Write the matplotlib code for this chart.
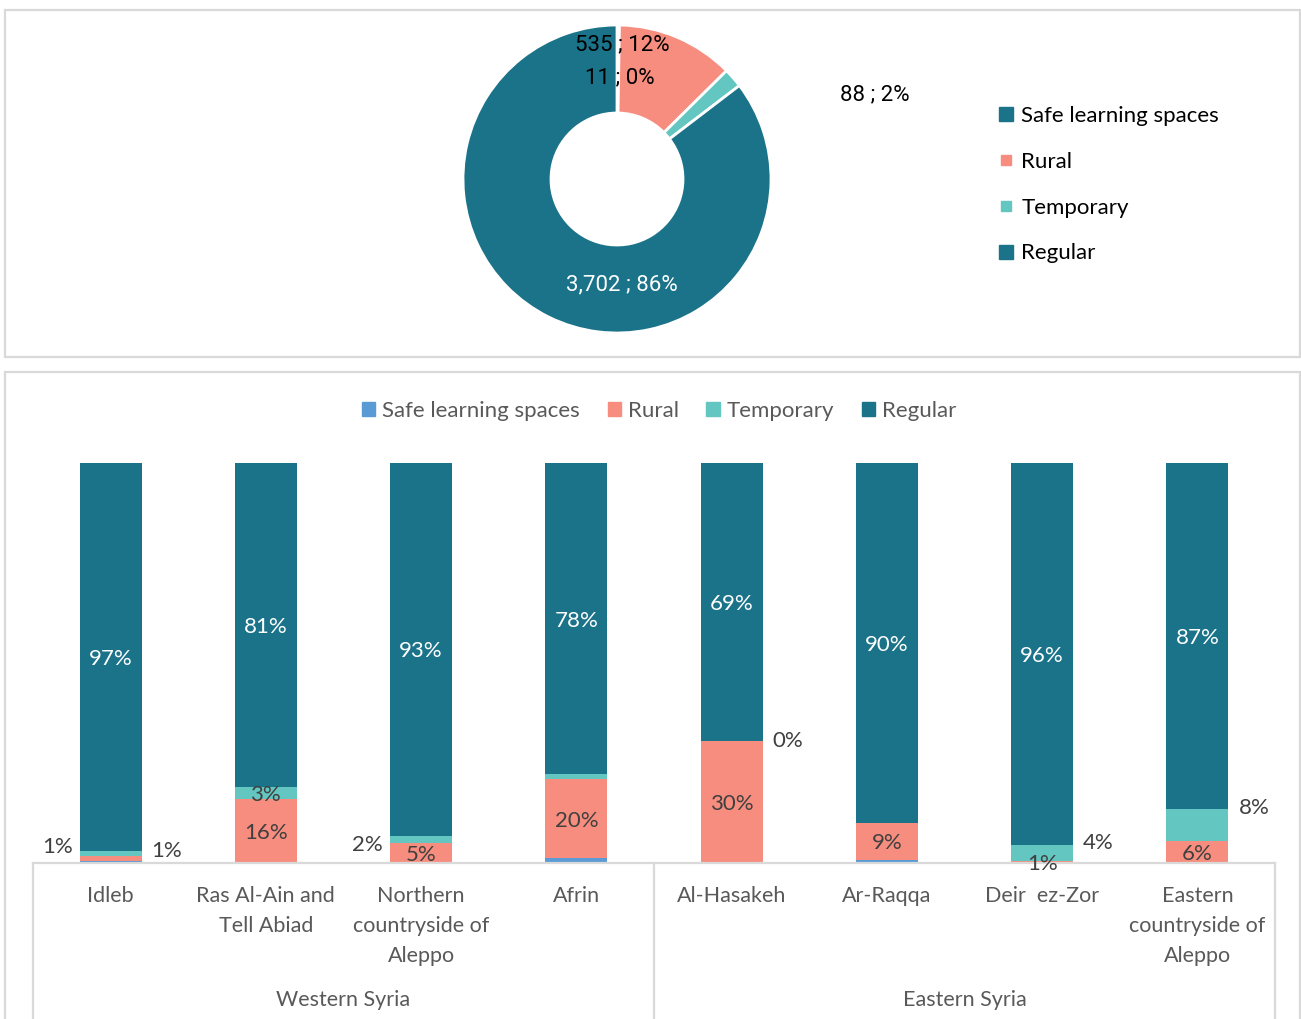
import matplotlib
matplotlib.use("Agg")
import matplotlib.pyplot as plt
from matplotlib.patches import Rectangle, Patch
from matplotlib.lines import Line2D
import matplotlib.transforms as mtransforms
import numpy as np

# ---------------- data ----------------
series = ["Safe learning spaces", "Rural", "Temporary", "Regular"]

# overall distribution (donut)
donut_counts = [11, 535, 88, 3702]
donut_pct = [0, 12, 2, 86]

# distribution by area (stacked bars, % of schools)
regions = ["Idleb", "Ras Al-Ain and\nTell Abiad", "Northern\ncountryside of\nAleppo", "Afrin",
           "Al-Hasakeh", "Ar-Raqqa", "Deir  ez-Zor", "Eastern\ncountryside of\nAleppo"]
groups = ["Western Syria", "Eastern Syria"]
group_sizes = [4, 4]
safe = [0.6, 0.0, 0.0, 1.2, 0.0, 0.8, 0.0, 0.0]
rural = [1.2, 16.0, 5.0, 19.8, 30.4, 9.2, 0.6, 5.6]
temporary = [1.3, 3.0, 1.8, 1.2, 0.2, 0.0, 3.8, 7.8]
regular = [96.9, 81.0, 93.2, 77.8, 69.4, 90.0, 95.6, 86.6]

# ---------------- style ----------------
C_REG = "#1a7389"
C_RUR = "#f78d7e"
C_TMP = "#63c6c1"
C_SAFE = "#5b9bd5"
GRID = "#d9d9d9"
TXT = "#595959"
LBL = "#404040"
FONT = "Lato"
FS = 16

W, H, DPI = 1301, 1019, 100


def fx(px):
    return px / W


def fy(py):
    return 1 - py / H


fig = plt.figure(figsize=(W / DPI, H / DPI), dpi=DPI)
fig.patch.set_facecolor("white")

# panel frames
for (x0, y0, x1, y1) in [(5, 10, 1300, 357), (5, 372, 1300, 1030)]:
    fig.add_artist(Rectangle((fx(x0), fy(y1)), fx(x1) - fx(x0), fy(y0) - fy(y1),
                             transform=fig.transFigure, fill=False, ec=GRID, lw=1.6))

# ---------------- donut ----------------
R_OUT, R_IN = 154, 66
cx, cy = 617, 179
axd = fig.add_axes([fx(cx - R_OUT), fy(cy + R_OUT), 2 * R_OUT / W, 2 * R_OUT / H])
donut_colors = [C_REG, C_RUR, C_TMP, C_REG]
axd.pie(donut_counts, colors=donut_colors, startangle=90, counterclock=False,
        radius=1, wedgeprops=dict(width=1 - R_IN / R_OUT, edgecolor="white", linewidth=2))
axd.set_xlim(-1, 1)
axd.set_ylim(-1, 1)
axd.set_aspect("equal")
axd.axis("off")

# label anchors in donut units (radius = 1)
donut_label_pos = [(0.02, 0.66), (0.032, 0.87), (1.675, 0.55), (0.032, -0.69)]
donut_label_col = ["black", "black", "black", "white"]
for n, p, pos, col in zip(donut_counts, donut_pct, donut_label_pos, donut_label_col):
    axd.text(pos[0], pos[1], f"{n:,} ; {p}%", ha="center", va="center", color=col,
             fontsize=16, family="Roboto", clip_on=False)

top_handles = [Line2D([], [], ls="none", marker="s", ms=ms, color=c)
               for c, ms in zip(donut_colors, [10, 7, 7, 10])]
fig.legend(top_handles, series, loc="upper left", bbox_to_anchor=(fx(997), fy(106)),
           frameon=False, prop=dict(family=FONT, size=FS), labelspacing=1.16,
           handlelength=0.8, handletextpad=0.3, borderaxespad=0, borderpad=0,
           labelcolor="black")

# ---------------- stacked bars ----------------
n = len(regions)
x = np.arange(n)
axb = fig.add_axes([fx(33), fy(863), (1275 - 33) / W, 400 / H])
layers = [safe, rural, temporary, regular]
colors = [C_SAFE, C_RUR, C_TMP, C_REG]
bottom = np.zeros(n)
bottoms = []
for vals, col in zip(layers, colors):
    vals = np.asarray(vals, dtype=float)
    bottoms.append(bottom.copy())
    axb.bar(x, vals, 0.4, bottom=bottom, color=col, linewidth=0)
    bottom += vals
axb.set_xlim(-0.5, n - 0.5)
axb.set_ylim(0, 100)
for s in ["top", "left", "right"]:
    axb.spines[s].set_visible(False)
axb.spines["bottom"].set_color(GRID)
axb.spines["bottom"].set_linewidth(1.6)
axb.set_xticks([])
axb.set_yticks([])
axb.patch.set_alpha(0)

LBL_DY = -2 * 72 / DPI  # nudge labels slightly downward (points)


def seg_label(j, y, text, color):
    axb.annotate(text, (j, y), xytext=(0, LBL_DY), textcoords="offset points",
                 ha="center", va="center", color=color, fontsize=FS, family=FONT,
                 annotation_clip=False)


# value labels drawn inside the segments
for j in range(n):
    v = regular[j]
    seg_label(j, bottoms[3][j] + v / 2, f"{v:.0f}%", "white")
inside_rural = [1, 2, 3, 4, 5, 7]
for j in inside_rural:
    v = rural[j]
    seg_label(j, bottoms[1][j] + v / 2, f"{v:.0f}%", LBL)
# temporary label inside for Ras Al-Ain
seg_label(1, bottoms[2][1] + temporary[1] / 2, f"{temporary[1]:.0f}%", LBL)
# Deir ez-Zor rural sliver label
seg_label(6, bottoms[1][6] + rural[6] / 2, f"{rural[6]:.0f}%", LBL)

# labels moved beside the bar: (region, layer, side, vertical shift in px)
outside = [(0, 1, "left", 9), (0, 2, "right", 0), (2, 2, "left", -9),
           (4, 2, "right", 0), (6, 2, "right", 2), (7, 2, "right", 1)]
for j, k, side, dy in outside:
    v = layers[k][j]
    ytop = bottoms[k][j] + v
    if side == "left":
        xt, ha, dx = j - 0.2, "right", -7
    else:
        xt, ha, dx = j + 0.2, "left", 10
    axb.annotate(f"{v:.0f}%", (xt, ytop), xytext=(dx * 72 / DPI, dy * 72 / DPI),
                 textcoords="offset points", ha=ha, va="center", color=LBL,
                 fontsize=FS, family=FONT, annotation_clip=False)

# category labels and group labels
trans = mtransforms.blended_transform_factory(axb.transData, fig.transFigure)
for j, name in enumerate(regions):
    axb.text(j, fy(886), name, transform=trans, ha="center", va="top", color=TXT,
             fontsize=15.5, family=FONT, linespacing=1.63)
start = 0
for g, size in zip(groups, group_sizes):
    axb.text(start + size / 2 - 0.5, fy(1000), g, transform=trans, ha="center",
             va="center", color=TXT, fontsize=15.5, family=FONT)
    start += size
# separators between category blocks
edges = np.concatenate([[0], np.cumsum(group_sizes)]) - 0.5
for e in edges:
    axb.add_line(Line2D([e, e], [fy(863), fy(1019)], transform=trans, color=GRID,
                        lw=1.6, clip_on=False))

bottom_handles = [Patch(color=c) for c in colors]
fig.legend(bottom_handles, series, loc="center", bbox_to_anchor=(fx(659), fy(411)), ncol=4,
           frameon=False, prop=dict(family=FONT, size=FS), handlelength=0.6,
           handleheight=0.6, handletextpad=0.3, columnspacing=1.25, labelcolor=TXT,
           borderpad=0, borderaxespad=0)

fig.savefig("out.png", dpi=DPI, facecolor="white")
